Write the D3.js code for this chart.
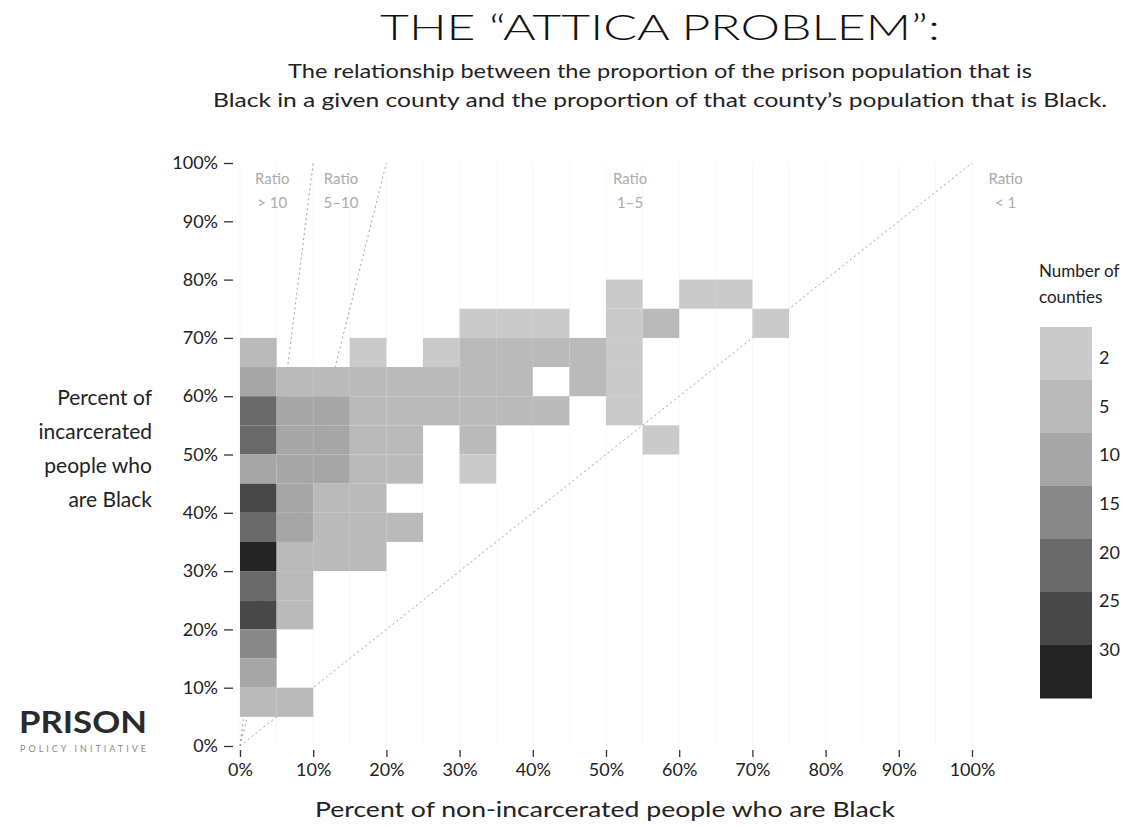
<!DOCTYPE html>
<html><head><meta charset="utf-8">
<script src="https://cdn.jsdelivr.net/npm/d3@7"></script>
<style>
body{margin:0;background:#fff}
svg{display:block}
text{font-family:Lato,"Open Sans",sans-serif}
</style>
</head><body>
<svg id="chart" width="1147" height="827"></svg>
<script>
// ---- data ----
// lower edge (%) of each 5% bin: x = non-incarcerated Black share, y = incarcerated Black share
const cellX = [
  50,60,65,
  30,35,40,50,55,70,
  0,15,25,30,35,40,45,50,
  0,5,10,15,20,25,30,35,45,50,
  0,5,10,15,20,25,30,35,40,50,
  0,5,10,15,20,30,55,
  0,5,10,15,20,30,
  0,5,10,15,
  0,5,10,15,20,
  0,5,10,15,
  0,5,
  0,5,
  0,
  0,
  0,5
];
const cellY = [
  75,75,75,
  70,70,70,70,70,70,
  65,65,65,65,65,65,65,65,
  60,60,60,60,60,60,60,60,60,60,
  55,55,55,55,55,55,55,55,55,55,
  50,50,50,50,50,50,50,
  45,45,45,45,45,45,
  40,40,40,40,
  35,35,35,35,35,
  30,30,30,30,
  25,25,
  20,20,
  15,
  10,
  5,5
];
const cellCount = [
  2,2,2,
  2,2,2,2,4,2,
  3,2,2,3,3,3,3,2,
  7,5,5,4,4,5,5,4,3,2,
  20,7,6,5,4,4,5,3,3,2,
  16,9,6,5,4,3,2,
  10,9,7,5,3,2,
  22,6,5,4,
  18,6,4,4,3,
  31,5,4,3,
  20,4,
  24,4,
  12,
  8,
  5,3
];
const binSize = 5;
const legendLabels = [2,5,10,15,20,25,30];
const legendThresholds = [3,6,11,16,21,26];
const legendColors = ["#cacaca","#bababa","#a6a6a6","#888888","#696969","#484848","#242424"];
const axisTicks = [0,10,20,30,40,50,60,70,80,90,100];
const ratioSlopes = [10,5,1];
const ratioLabels = [
  {x:4.4, lines:["Ratio","> 10"]},
  {x:13.8, lines:["Ratio","5–10"]},
  {x:53.3, lines:["Ratio","1–5"]},
  {x:104.6, lines:["Ratio","< 1"]}
];
const titleText = "THE \u201CATTICA PROBLEM\u201D:";
const subtitleLines = [
  "The relationship between the proportion of the prison population that is",
  "Black in a given county and the proportion of that county\u2019s population that is Black."
];
const yTitleLines = ["Percent of","incarcerated","people who","are Black"];
const xTitle = "Percent of non-incarcerated people who are Black";
const legendTitle = ["Number of","counties"];

// ---- drawing ----
const svg = d3.select("#chart");
const x = d3.scaleLinear().domain([0,100]).range([240,972]);
const y = d3.scaleLinear().domain([0,100]).range([746,163]);
const color = d3.scaleThreshold().domain(legendThresholds).range(legendColors);
const pct = d => d + "%";

// very faint grid
const grid = svg.append("g").attr("stroke","#f7f7f7").attr("stroke-width",1);
grid.selectAll("line.v").data(d3.range(0,101,5)).join("line")
  .attr("x1",d=>x(d)).attr("x2",d=>x(d)).attr("y1",y(0)).attr("y2",y(100));

// ratio lines
svg.append("g").selectAll("line").data(ratioSlopes).join("line")
  .attr("x1",x(0)).attr("y1",y(0))
  .attr("x2",d=>x(100/d)).attr("y2",y(100))
  .attr("stroke","#a0a0a0").attr("stroke-width",1).attr("stroke-dasharray","2,3");

// cells
const cells = cellX.map((cx,i)=>({x:cx,y:cellY[i],n:cellCount[i]}));
svg.append("g").selectAll("rect").data(cells).join("rect")
  .attr("x",d=>x(d.x)).attr("y",d=>y(d.y+binSize))
  .attr("width",d=>x(d.x+binSize)-x(d.x))
  .attr("height",d=>y(d.y)-y(d.y+binSize))
  .attr("fill",d=>color(d.n));

// ratio labels
const rl = svg.append("g").attr("fill","#ababab").attr("font-size",15).attr("text-anchor","middle");
ratioLabels.forEach(r=>{
  r.lines.forEach((t,i)=>{
    rl.append("text").attr("x",x(r.x)).attr("y",184+i*24).text(t);
  });
});

// y axis
const yAxis = d3.axisLeft(y).tickValues(axisTicks).tickFormat(pct).tickSize(9).tickPadding(6);
const gy = svg.append("g").attr("transform","translate(233,0)").call(yAxis);
gy.select(".domain").remove();
gy.selectAll("text").attr("font-size",18).attr("fill","#222").attr("font-family","Lato");
gy.selectAll("line").attr("stroke","#333").attr("stroke-width",1.3);

// x axis
const xAxis = d3.axisBottom(x).tickValues(axisTicks).tickFormat(pct).tickSize(7).tickPadding(6);
const gx = svg.append("g").attr("transform","translate(0,750)").call(xAxis);
gx.select(".domain").remove();
gx.selectAll("text").attr("font-size",18).attr("fill","#222").attr("font-family","Lato");
gx.selectAll("line").attr("stroke","#333").attr("stroke-width",1.3);

// titles
svg.append("text").attr("x",660).attr("y",40).attr("text-anchor","middle")
  .attr("font-size",35).attr("font-weight",300).attr("fill","#111")
  .attr("textLength",560).attr("lengthAdjust","spacingAndGlyphs").text(titleText);
const subW = [744, 894];
subtitleLines.forEach((t,i)=>{
  svg.append("text").attr("x",660).attr("y",78+i*29).attr("text-anchor","middle")
    .attr("font-size",19).attr("fill","#222")
    .attr("textLength",subW[i]).attr("lengthAdjust","spacingAndGlyphs").text(t);
});
yTitleLines.forEach((t,i)=>{
  svg.append("text").attr("x",152).attr("y",405+i*34).attr("text-anchor","end")
    .attr("font-size",21).attr("fill","#222").text(t);
});
svg.append("text").attr("x",605).attr("y",817).attr("text-anchor","middle")
  .attr("font-size",21).attr("fill","#222")
  .attr("textLength",580).attr("lengthAdjust","spacingAndGlyphs").text(xTitle);

// legend
const lg = svg.append("g");
legendTitle.forEach((t,i)=>{
  lg.append("text").attr("x",1039).attr("y",277+i*26).attr("font-size",17).attr("fill","#222").text(t);
});
const ly = d3.scaleBand().domain(legendLabels).range([327,698]).padding(0);
lg.selectAll("rect").data(legendLabels).join("rect")
  .attr("x",1040).attr("y",d=>ly(d)).attr("width",52).attr("height",ly.bandwidth()+0.5)
  .attr("fill",d=>color(d));
const lt = d3.scalePoint().domain(legendLabels).range([364,656]);
lg.selectAll("text.l").data(legendLabels).join("text").attr("class","l")
  .attr("x",1099).attr("y",d=>lt(d)).attr("font-size",18).attr("fill","#222").text(d=>d);

// logo
svg.append("text").attr("x",19).attr("y",733).attr("font-size",31).attr("font-weight",700)
  .attr("fill","#2a2a2a").attr("textLength",128).attr("lengthAdjust","spacingAndGlyphs").text("PRISON");
svg.append("text").attr("x",20).attr("y",752).attr("font-size",9)
  .attr("fill","#8a8a8a").attr("textLength",126).attr("lengthAdjust","spacing").text("POLICY INITIATIVE");
</script>
</body></html>
